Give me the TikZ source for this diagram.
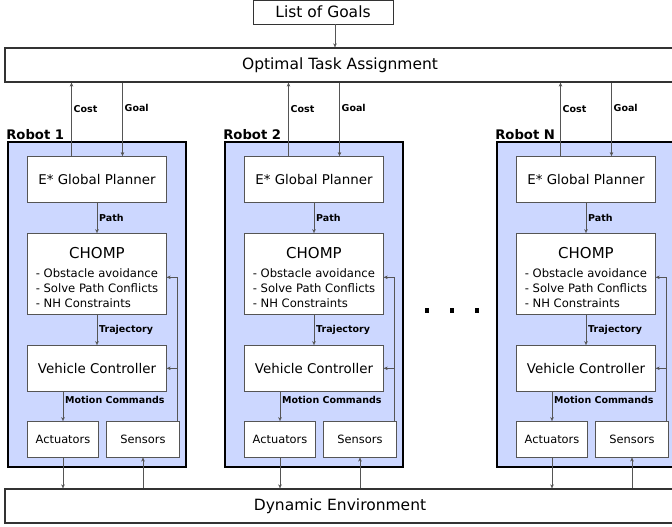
\documentclass[tikz,border=0pt]{standalone}
\usepackage{fontspec}
\setmainfont{DejaVu Sans}
\usepackage{tikz}
\usetikzlibrary{positioning,calc,arrows.meta}
\definecolor{robotblue}{RGB}{204,215,255}
\definecolor{linegray}{RGB}{85,85,85}
\tikzstyle{arrow} = [linegray,-{Stealth[length=4pt,width=3.5pt]}]
\tikzstyle{wide} = [draw=black!80,line width=1.3pt,fill=white,inner sep=0pt,minimum width=670pt,minimum height=34pt,font=\fontsize{15.5}{18}\selectfont]
\tikzstyle{robot} = [draw=black,line width=1.8pt,fill=robotblue,inner sep=0pt,minimum width=178pt,minimum height=325pt]
\tikzstyle{block} = [draw=linegray,fill=white,inner sep=0pt,minimum width=139pt,minimum height=46pt,font=\fontsize{13.4}{16}\selectfont]
\tikzstyle{io} = [draw=linegray,fill=white,inner sep=0pt,minimum height=36pt,font=\fontsize{11.4}{14}\selectfont]
\tikzstyle{tag} = [text=black,font=\bfseries\fontsize{9.5}{11}\selectfont,inner sep=2pt,right]
\tikzstyle{rname} = [font=\bfseries\fontsize{13.2}{15}\selectfont,inner sep=1pt,anchor=south west]
\newcommand{\chomptext}{{\fontsize{15}{18}\selectfont\rule{0pt}{23pt}CHOMP}\\[3pt]{\fontsize{11.6}{14.7}\selectfont\begin{tabular}[t]{@{}l@{}}- Obstacle avoidance\\- Solve Path Conflicts\\- NH Constraints\end{tabular}}}

\begin{document}
\begin{tikzpicture}[x=1pt,y=-1pt,on grid]
    \useasboundingbox (0,0) rectangle (672,527);
    \clip (0,0) rectangle (672,527);
    \node[wide,minimum width=140pt,minimum height=24pt,line width=0.8pt] (goals) at (323,12) {List of Goals};
    \node[wide] (opt) at (340,65) {Optimal Task Assignment};
    \node[wide] (env) at (340,506) {Dynamic Environment};
    \coordinate (gx) at ([xshift=12pt]goals.south);
    \draw[arrow] (gx) -- (gx |- opt.north);

    \node[robot] (robot_1) at (97,304.5) {};
    \node[robot][right=217pt of robot_1] (robot_2) {};
    \node[robot][right=272pt of robot_2] (robot_N) {};
    \node[rname] at ([xshift=-2pt]robot_1.north west) {Robot 1};
    \node[rname] at ([xshift=-2pt]robot_2.north west) {Robot 2};
    \node[rname] at ([xshift=-2pt]robot_N.north west) {Robot N};

    \node[block][below=15pt of robot_1.north] (plan_1) {E* Global Planner};
    \node[block,minimum height=81pt,align=center][below=94.5pt of plan_1] (chomp_1) {\chomptext};
    \node[block][below=94.5pt of chomp_1] (vc_1) {Vehicle Controller};
    \node[io,minimum width=71pt][below left=71pt and 34pt of vc_1] (act_1) {Actuators};
    \node[io,minimum width=73pt][right=80pt of act_1] (sen_1) {Sensors};

    \node[block][below=15pt of robot_2.north] (plan_2) {E* Global Planner};
    \node[block,minimum height=81pt,align=center][below=94.5pt of plan_2] (chomp_2) {\chomptext};
    \node[block][below=94.5pt of chomp_2] (vc_2) {Vehicle Controller};
    \node[io,minimum width=71pt][below left=71pt and 34pt of vc_2] (act_2) {Actuators};
    \node[io,minimum width=73pt][right=80pt of act_2] (sen_2) {Sensors};

    \node[block][below=15pt of robot_N.north] (plan_N) {E* Global Planner};
    \node[block,minimum height=81pt,align=center][below=94.5pt of plan_N] (chomp_N) {\chomptext};
    \node[block][below=94.5pt of chomp_N] (vc_N) {Vehicle Controller};
    \node[io,minimum width=71pt][below left=71pt and 34pt of vc_N] (act_N) {Actuators};
    \node[io,minimum width=73pt][right=80pt of act_N] (sen_N) {Sensors};

    \foreach \r in {1,2,N}{
        \coordinate (c_\r) at ([xshift=-25.5pt]plan_\r.north);
        \coordinate (g_\r) at ([xshift=25.5pt]plan_\r.north);
        \coordinate (f_\r) at ([xshift=-3pt]sen_\r.north east);
        \draw[arrow] (c_\r) -- (c_\r |- opt.south) node[tag,pos=0.64] {Cost};
        \draw[arrow] (g_\r |- opt.south) -- (g_\r) node[tag,pos=0.35] {Goal};
        \draw[arrow] (plan_\r.south) -- (chomp_\r.north) node[tag,midway] {Path};
        \draw[arrow] (chomp_\r.south) -- (vc_\r.north) node[tag,midway] {Trajectory};
        \draw[arrow] (vc_\r.south -| act_\r.north) -- (act_\r.north) node[tag,pos=0.3] {Motion Commands};
        \draw[arrow] (act_\r.south) -- (act_\r.south |- env.north);
        \draw[arrow] (sen_\r.south |- env.north) -- (sen_\r.south);
        \draw[arrow] (f_\r) |- ([yshift=-3.5pt]chomp_\r.east);
        \draw[arrow] (f_\r) |- (vc_\r.east);
    }

    \foreach \x in {427,452,477}
        \fill (\x-2,307.5) rectangle (\x+2,312.5);
\end{tikzpicture}
\end{document}
